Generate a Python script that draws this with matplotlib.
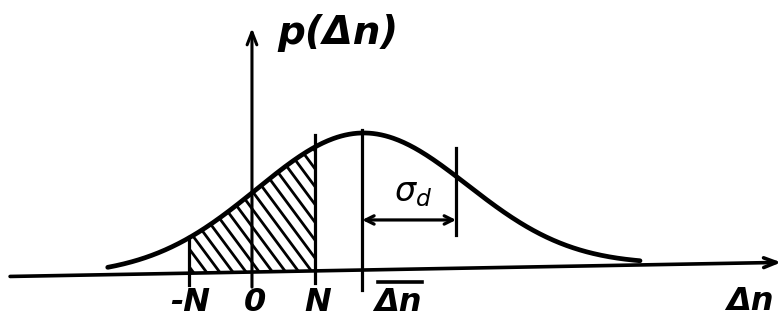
import numpy as np
import matplotlib
matplotlib.use("Agg")
import matplotlib.pyplot as plt
from matplotlib.patches import Polygon
from matplotlib.collections import LineCollection

# Distribution shape (x in units of N, y normalised to the peak)
mean_dn = 1.75
sigma_curve = 1.67
x_start, x_end = -2.29, 6.16
sigma_marker = 3.24          # position of the sigma marker line
n_limit = 1.0                # integration limits -N .. N
axis_tilt = 0.0084           # slight slope of the hand-drawn abscissa

tick_positions = [-1.0, 0.0, 1.0, mean_dn]
tick_labels = ["-N", "0", "N", r"$\overline{\Delta n}$"]
label_x = [-0.98, 0.05, 1.05, 2.32]


def base(x):
    return axis_tilt * np.asarray(x)


def curve(x):
    return base(x) + np.exp(-0.5 * ((x - mean_dn) / sigma_curve) ** 2)


fig = plt.figure(figsize=(7.83, 3.2), dpi=100)
ax = fig.add_axes([0, 0, 1, 1])
ax.set_xlim(-4.0, 8.43)
ax.set_ylim(-0.35, 1.985)
ax.axis("off")

ink = "black"

# axes with arrows
ax.annotate("", xy=(8.4, base(8.4)), xytext=(-3.84, base(-3.84)),
            arrowprops=dict(arrowstyle="->,head_length=0.9,head_width=0.35",
                            lw=2.6, color=ink, shrinkA=0, shrinkB=0))
ax.annotate("", xy=(0.0, 1.78), xytext=(0.0, -0.11),
            arrowprops=dict(arrowstyle="->,head_length=0.9,head_width=0.35",
                            lw=2.2, color=ink, shrinkA=0, shrinkB=0))

# the curve
xs = np.linspace(x_start, x_end, 400)
ax.plot(xs, curve(xs), color=ink, lw=3.4, solid_capstyle="round")

# hatched area between -N and N
xf = np.linspace(-n_limit, n_limit, 100)
verts = ([(-n_limit, base(-n_limit))] + list(zip(xf, curve(xf)))
         + [(n_limit, base(n_limit))])
region = Polygon(verts, closed=True, facecolor="none", edgecolor="none")
ax.add_patch(region)
spacing = 0.21
slope = -0.62
segs = []
for c in np.arange(-3, 4, spacing):
    x0, x1 = c - 2, c + 2
    segs.append([(x0, slope * (x0 - c) + 0.5), (x1, slope * (x1 - c) + 0.5)])
hatch = LineCollection(segs, colors=ink, linewidths=2.0)
ax.add_collection(hatch)
hatch.set_clip_path(region)

# vertical marker lines
ax.plot([-1.0, -1.0], [-0.095, 0.255], color=ink, lw=2.3)
ax.plot([1.0, 1.0], [-0.08, 1.0], color=ink, lw=2.3)
ax.plot([mean_dn, mean_dn], [-0.131, 1.036], color=ink, lw=2.3)
ax.plot([sigma_marker, sigma_marker], [0.27, 0.905], color=ink, lw=2.3)

# sigma width arrow
ax.annotate("", xy=(sigma_marker, 0.38), xytext=(mean_dn, 0.38),
            arrowprops=dict(arrowstyle="<->,head_length=0.6,head_width=0.3",
                            lw=2.3, color=ink, shrinkA=0, shrinkB=0))
ax.text(2.56, 0.58, r"$\sigma_d$", fontsize=24, ha="center", va="center",
        color=ink)

# labels
font = dict(fontsize=23, fontweight="bold", style="italic", color=ink,
            ha="center", va="center")
for lx, lab in zip(label_x, tick_labels):
    if lab.startswith("$"):
        ax.text(lx, -0.225, "Δn", **font)
        ax.plot([lx - 0.32, lx + 0.38], [-0.073, -0.073], color=ink, lw=2.6)
    else:
        ax.text(lx, -0.219, lab, **font)

ax.text(7.9, -0.215, "Δn", **font)
ax.text(1.37, 1.745, "p(Δn)", fontsize=28, fontweight="bold", style="italic",
        color=ink, ha="center", va="center")

fig.savefig("out.png", dpi=100)
